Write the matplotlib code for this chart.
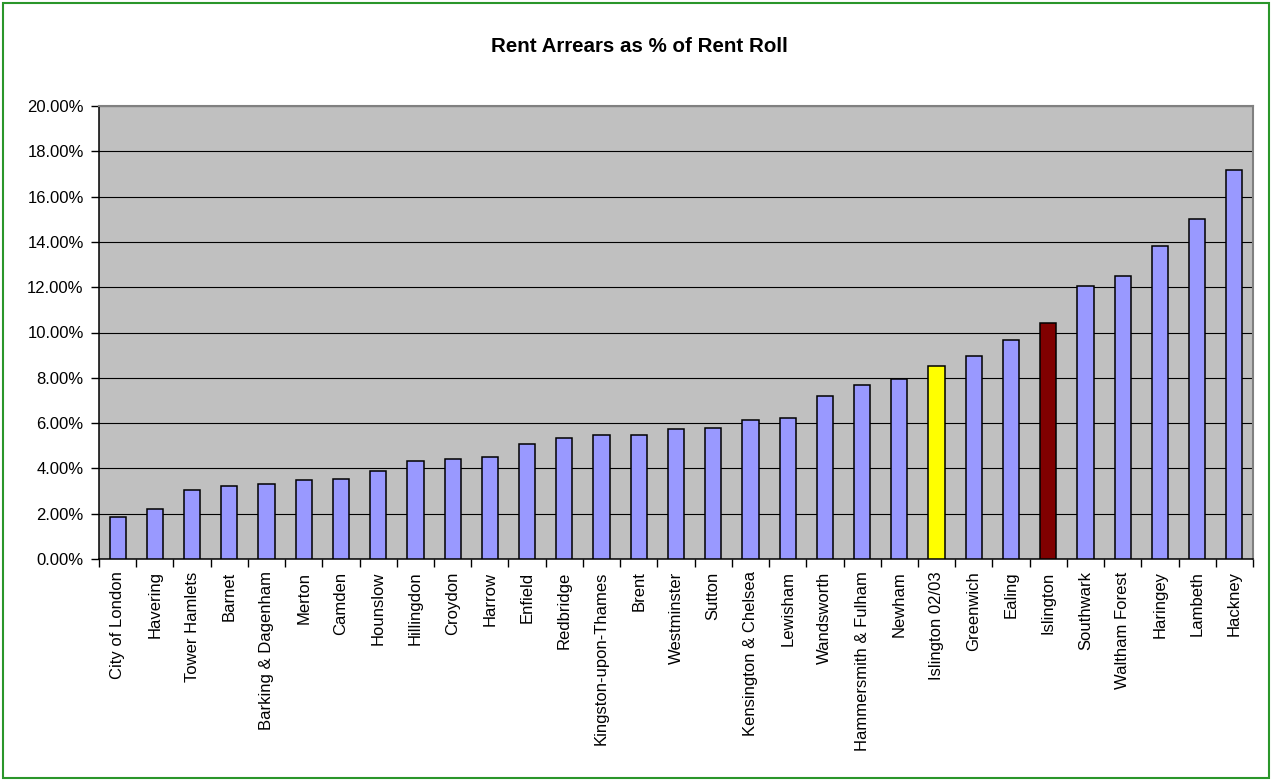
import matplotlib
matplotlib.use("Agg")
import matplotlib.pyplot as plt
from matplotlib.ticker import FixedLocator, PercentFormatter
from matplotlib.patches import Rectangle

boroughs = [
    "City of London", "Havering", "Tower Hamlets", "Barnet", "Barking & Dagenham",
    "Merton", "Camden", "Hounslow", "Hillingdon", "Croydon", "Harrow", "Enfield",
    "Redbridge", "Kingston-upon-Thames", "Brent", "Westminster", "Sutton",
    "Kensington & Chelsea", "Lewisham", "Wandsworth", "Hammersmith & Fulham",
    "Newham", "Islington 02/03", "Greenwich", "Ealing", "Islington", "Southwark",
    "Waltham Forest", "Haringey", "Lambeth", "Hackney",
]
arrears_pct = [
    1.85, 2.19, 3.03, 3.22, 3.31, 3.47, 3.53, 3.89, 4.33, 4.40, 4.52, 5.09,
    5.33, 5.49, 5.49, 5.74, 5.77, 6.14, 6.24, 7.18, 7.68, 7.95, 8.52, 8.98,
    9.69, 10.44, 12.05, 12.48, 13.82, 15.00, 17.16,
]
highlight_colours = {"Islington 02/03": "#FFFF00", "Islington": "#800000"}
base_colour = "#9999FF"
y_ticks = [0, 2, 4, 6, 8, 10, 12, 14, 16, 18, 20]

plt.rcParams["font.family"] = ["Liberation Sans", "DejaVu Sans"]

W, H = 1272, 781
fig = plt.figure(figsize=(W / 100, H / 100), dpi=100)
fig.patch.set_facecolor("white")

# Chart-area frame
fig.patches.append(Rectangle((3 / W, 3 / H), (W - 6) / W, (H - 6) / H,
                             transform=fig.transFigure, fill=False,
                             edgecolor="#2a962a", linewidth=1.5, zorder=10))

left, right, top, bottom = 99, 1253, 106, 559
ax = fig.add_axes([left / W, (H - bottom) / H, (right - left) / W, (bottom - top) / H])
ax.set_facecolor("#C0C0C0")

n = len(boroughs)
positions = list(range(n))
colours = [highlight_colours.get(b, base_colour) for b in boroughs]
ax.bar(positions, arrears_pct, width=0.435, color=colours,
       edgecolor="black", linewidth=1.1, zorder=3)

ax.set_xlim(-0.5, n - 0.5)
ax.set_ylim(0, 20)
ax.yaxis.set_major_locator(FixedLocator(y_ticks))
ax.yaxis.set_major_formatter(PercentFormatter(xmax=100, decimals=2))
ax.grid(axis="y", color="black", linewidth=0.8, zorder=1)
ax.set_axisbelow(True)

# Ticks sit on category boundaries, labels on category centres
ax.xaxis.set_major_locator(FixedLocator([i - 0.5 for i in range(n + 1)]))
ax.xaxis.set_major_formatter(plt.NullFormatter())
ax.xaxis.set_minor_locator(FixedLocator(positions))
ax.set_xticklabels(boroughs, minor=True, rotation=90, fontsize=12)
ax.tick_params(axis="x", which="major", length=6, width=1, color="black")
ax.tick_params(axis="x", which="minor", length=0, pad=9)
ax.tick_params(axis="y", which="major", length=6, width=1, color="black",
               labelsize=12, pad=5)

for side in ("left", "bottom"):
    ax.spines[side].set_color("black")
    ax.spines[side].set_linewidth(1.1)
for side in ("top", "right"):
    ax.spines[side].set_color("#808080")
    ax.spines[side].set_linewidth(1.5)

fig.text(639 / W, 1 - 47 / H, "Rent Arrears as % of Rent Roll",
         ha="center", va="center", fontsize=14.8, fontweight="bold")

fig.savefig("out.png", dpi=100)
